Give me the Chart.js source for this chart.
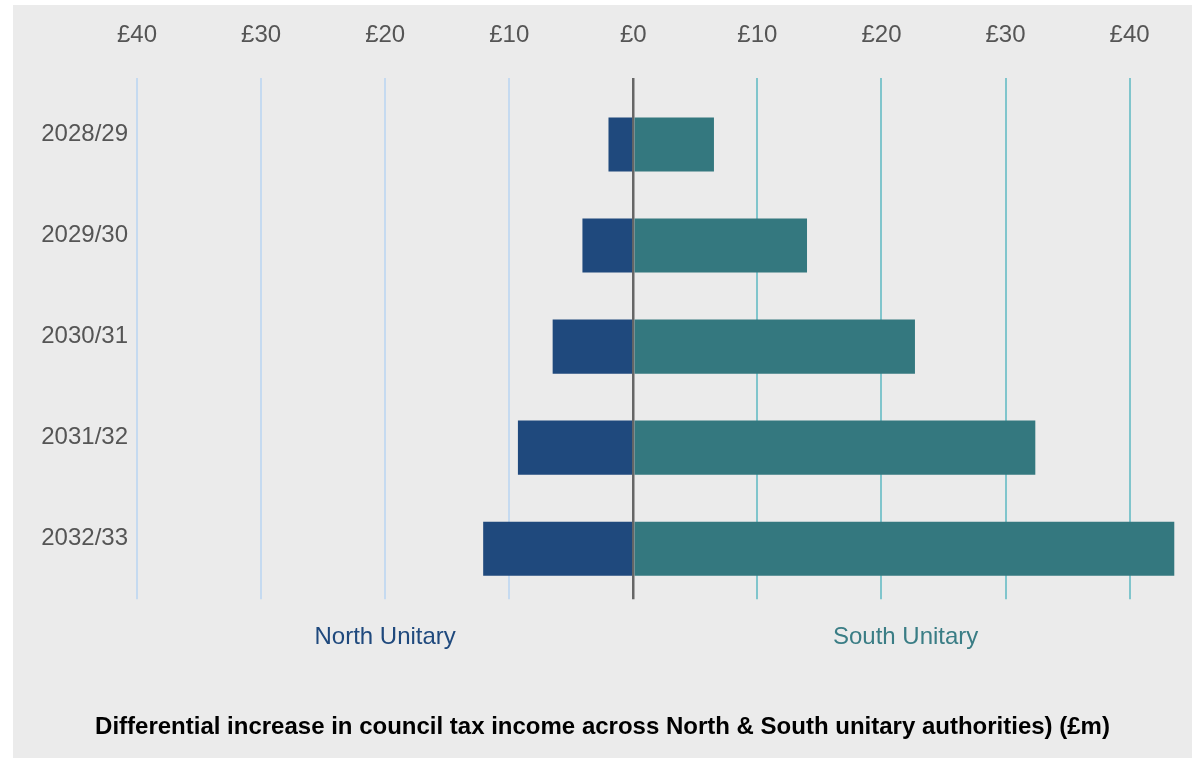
<!DOCTYPE html>
<html>
<head>
<meta charset="utf-8">
<script src="https://cdn.jsdelivr.net/npm/chart.js@4"></script>
<style>
    body { margin: 0; background: #ffffff; }
    #wrap {
        position: absolute;
        left: 13px; top: 5px;
        width: 1179px; height: 753px;
        background: #ebebeb;
    }
</style>
</head>
<body>
<div id="wrap"><canvas id="taxChart"></canvas></div>
<script>
// --- DATA ---
const years = ["2028/29", "2029/30", "2030/31", "2031/32", "2032/33"];
const northValues = [-2.0, -4.1, -6.5, -9.3, -12.1];   // North Unitary (£m)
const southValues = [6.5, 14.0, 22.7, 32.4, 43.6];     // South Unitary (£m)
const tickValues = [-40, -30, -20, -10, 0, 10, 20, 30, 40];

const northColour = "#1f497d";
const southColour = "#34787f";
const fontFamily = "'Liberation Sans', Arial, sans-serif";

// draws the two side captions under the axis
const sideLabels = {
    id: "sideLabels",
    afterDraw(chart) {
        const ctx = chart.ctx;
        const x = chart.scales.x;
        ctx.save();
        ctx.font = "24px " + fontFamily;
        ctx.textAlign = "center";
        ctx.textBaseline = "middle";
        ctx.fillStyle = northColour;
        ctx.fillText("North Unitary", x.getPixelForValue(x.min / 2), 632);
        ctx.fillStyle = "#3a7d85";
        ctx.fillText("South Unitary", x.getPixelForValue(x.max / 2), 632);
        ctx.restore();
    }
};

function gridColour(ctx) {
    const v = ctx.tick ? ctx.tick.value : 0;
    if (v === 0) return "#666666";
    return v < 0 ? "#c5daf0" : "#80c5cc";
}

new Chart(document.getElementById("taxChart"), {
    type: "bar",
    data: {
        labels: years,
        datasets: [
            { label: "North Unitary", data: northValues, backgroundColor: northColour },
            { label: "South Unitary", data: southValues, backgroundColor: southColour }
        ]
    },
    options: {
        indexAxis: "y",
        responsive: true,
        maintainAspectRatio: false,
        animation: false,
        layout: { padding: { left: 14, right: 14, top: 0, bottom: 16 } },
        datasets: { bar: { barPercentage: 0.535, categoryPercentage: 1 } },
        plugins: {
            legend: { display: false },
            tooltip: { enabled: false },
            title: {
                display: true,
                position: "bottom",
                text: "Differential increase in council tax income across North & South unitary authorities) (£m)",
                color: "#000000",
                font: { family: fontFamily, size: 24, weight: "bold" },
                padding: { top: 114, bottom: 0 }
            }
        },
        scales: {
            x: {
                position: "top",
                stacked: true,
                min: -40,
                max: 43.9,
                afterBuildTicks: (scale) => { scale.ticks = tickValues.map(v => ({ value: v })); },
                afterFit: (scale) => { scale.height = 89; },
                border: { display: false },
                grid: {
                    color: gridColour,
                    lineWidth: (ctx) => (ctx.tick && ctx.tick.value === 0 ? 2.5 : 2),
                    drawTicks: true,
                    tickLength: 16
                },
                ticks: {
                    color: "#555555",
                    font: { family: fontFamily, size: 24 },
                    padding: 28,
                    maxRotation: 0,
                    callback: (v) => "£" + Math.abs(v)
                }
            },
            y: {
                stacked: true,
                afterFit: (scale) => { scale.width = 110; },
                border: { display: false },
                grid: { display: false, drawTicks: false },
                ticks: {
                    color: "#555555",
                    font: { family: fontFamily, size: 24 },
                    padding: 9,
                    labelOffset: -10
                }
            }
        }
    },
    plugins: [sideLabels]
});
</script>
</body>
</html>
